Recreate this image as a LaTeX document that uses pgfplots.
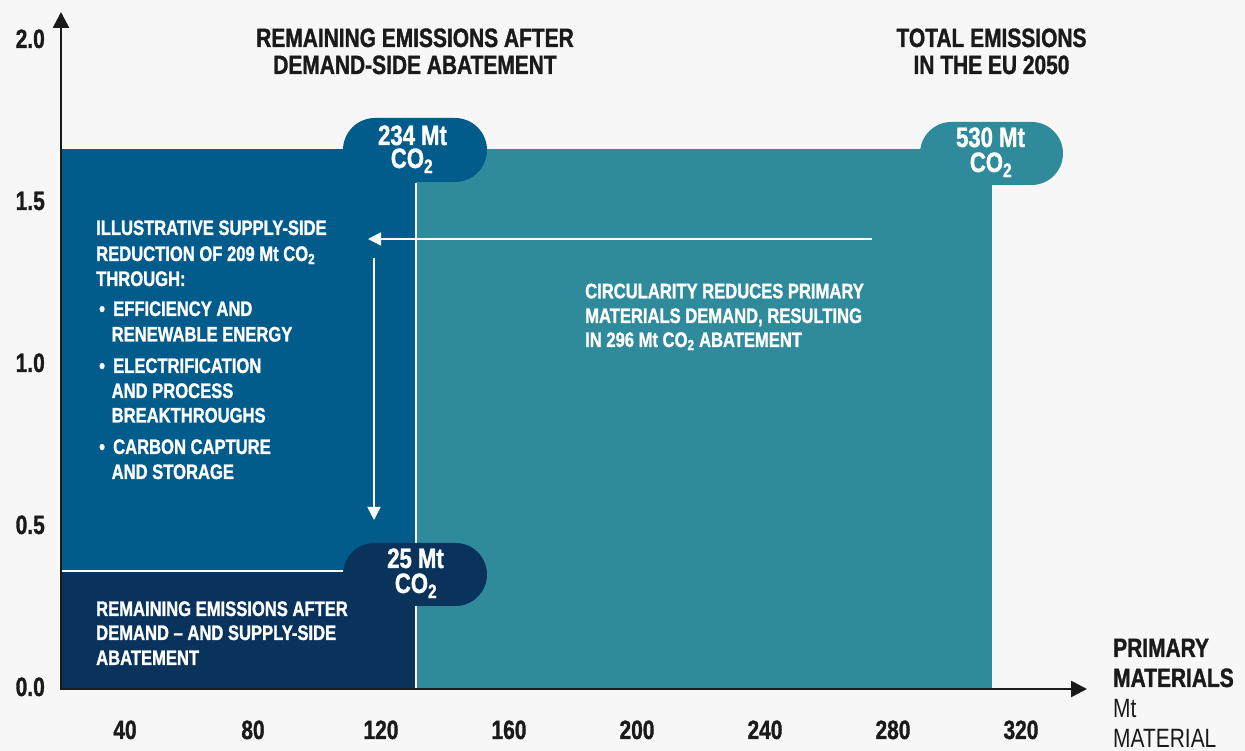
\documentclass[border=0pt]{standalone}
\usepackage{fontspec}
\setmainfont{Liberation Sans}[FakeStretch=0.79, BoldFeatures={FakeBold=1.2}]
\usepackage{pgfplots}
\pgfplotsset{compat=1.18}
\usetikzlibrary{arrows.meta}
\definecolor{bgc}{HTML}{F7F7F7}
\definecolor{tealc}{HTML}{2F8B9B}
\definecolor{midblue}{HTML}{025C8B}
\definecolor{navy}{HTML}{0A335C}
\definecolor{axc}{HTML}{1A1A1A}
\newcommand{\bigtxt}{\fontsize{26.5}{27}\selectfont\bfseries}
\newcommand{\pilltxt}{\fontsize{28}{27}\selectfont\bfseries}
\newcommand{\intxt}{\fontsize{21}{24}\selectfont\bfseries}
\begin{document}
\begin{tikzpicture}[x=1pt,y=1pt]
\useasboundingbox (-61,-63) rectangle (1184,688);
\fill[bgc] (-61,-63) rectangle (1184,688);
\begin{axis}[at={(0,0)}, anchor=south west, scale only axis,
  width=1024pt, height=675.9pt,
  xmin=20, xmax=340, ymin=0, ymax=2.086,
  clip=false,
  axis line style={draw=none},
  major tick length=0pt,
  xtick={40,80,...,320},
  ytick={0,0.5,1,1.5,2},
  yticklabel={\pgfmathprintnumber[fixed,fixed zerofill,precision=1]{\tick}},
  /pgf/number format/assume math mode=true,
  xticklabel style={anchor=base, inner sep=0pt, yshift=-51pt, font=\bigtxt, text=axc},
  yticklabel style={anchor=base east, inner sep=0pt, xshift=-16pt, yshift=-8pt, font=\bigtxt, text=axc},
]
% total emissions 2050
\addplot[fill=tealc, draw=none] coordinates {(20,1.664) (311,1.664)} \closedcycle;
% remaining after demand-side abatement
\addplot[fill=midblue, draw=none] coordinates {(20,1.664) (131,1.664)} \closedcycle;
% remaining after demand and supply-side abatement
\addplot[fill=navy, draw=none] coordinates {(20,0.361) (131,0.361)} \closedcycle;
\draw[white, line width=2pt] (axis cs:131,0) -- (axis cs:131,1.56);
\draw[white, line width=1.5pt] (axis cs:20,0.361) -- (axis cs:128,0.361);
\end{axis}
% pills
\node[fill=midblue, rounded corners=32pt, minimum width=144pt, minimum height=64pt, inner sep=0pt] at (354,538) {};
\node[fill=navy, rounded corners=31.5pt, minimum width=144pt, minimum height=63pt, inner sep=0pt] at (354,113.5) {};
\node[fill=tealc, rounded corners=31.5pt, minimum width=143pt, minimum height=63pt, inner sep=0pt] at (930.5,534.5) {};
\begin{scope}[every node/.style={text=white, font=\pilltxt, inner sep=0pt, anchor=base, text height=20pt}]
\node[text depth=0pt] at (351.5,543) {234 Mt};
\node[text depth=2pt] at (351,520) {CO\textsubscript{2}};
\node[text depth=0pt] at (929.5,541) {530 Mt};
\node[text depth=2pt] at (930,516) {CO\textsubscript{2}};
\node[text depth=0pt] at (354.5,120) {25 Mt};
\node[text depth=2pt] at (355,95) {CO\textsubscript{2}};
\end{scope}
% white arrows
\draw[white, line width=1.5pt, -{Triangle[length=13pt,width=13pt]}] (811,449) -- (307,449);
\draw[white, line width=1.5pt, -{Triangle[length=13pt,width=13pt]}] (313,430) -- (313,168);
% axes
\draw[axc, line width=2.6pt, -{Triangle[length=16pt,width=16pt]}] (0,-1) -- (0,676);
\draw[axc, line width=2.6pt, -{Triangle[length=16pt,width=16pt]}] (-1.3,-1) -- (1026,-1);
% titles
\begin{scope}[every node/.style={text=axc, font=\bigtxt, inner sep=0pt, anchor=base}]
\node at (354,641) {REMAINING EMISSIONS AFTER};
\node at (354,614) {DEMAND-SIDE ABATEMENT};
\node at (930.5,641) {TOTAL EMISSIONS};
\node at (930.5,614) {IN THE EU 2050};
\end{scope}
\begin{scope}[every node/.style={text=axc, font=\bigtxt, inner sep=0pt, anchor=base west}]
\node at (1052,31) {PRIMARY};
\node at (1052,1) {MATERIALS};
\node[font=\fontsize{26.5}{27}\selectfont] at (1052,-30) {Mt};
\node[font=\fontsize{26.5}{27}\selectfont, text depth=0pt] at (1052,-60) {MATERIAL};
\end{scope}
% inner annotations
\begin{scope}[every node/.style={text=white, font=\intxt, inner sep=0pt, anchor=base west}]
\node at (35,453) {ILLUSTRATIVE SUPPLY-SIDE};
\node at (35,427) {REDUCTION OF 209 Mt CO\textsubscript{2}};
\node at (35,402) {THROUGH:};
\node at (38,372) {•};
\node at (52,372) {EFFICIENCY AND};
\node at (50.5,346.5) {RENEWABLE ENERGY};
\node at (38,315) {•};
\node at (52,315) {ELECTRIFICATION};
\node at (50.5,290) {AND PROCESS};
\node at (50.5,265.5) {BREAKTHROUGHS};
\node at (38,234) {•};
\node at (52,234) {CARBON CAPTURE};
\node at (50.5,209) {AND STORAGE};
\node at (524,389.7) {CIRCULARITY REDUCES PRIMARY};
\node at (524,365) {MATERIALS DEMAND, RESULTING};
\node at (524,341) {IN 296 Mt CO\textsubscript{2} ABATEMENT};
\node at (35,72) {REMAINING EMISSIONS AFTER};
\node at (35,48) {DEMAND – AND SUPPLY-SIDE};
\node at (35,23) {ABATEMENT};
\end{scope}
\end{tikzpicture}
\end{document}
